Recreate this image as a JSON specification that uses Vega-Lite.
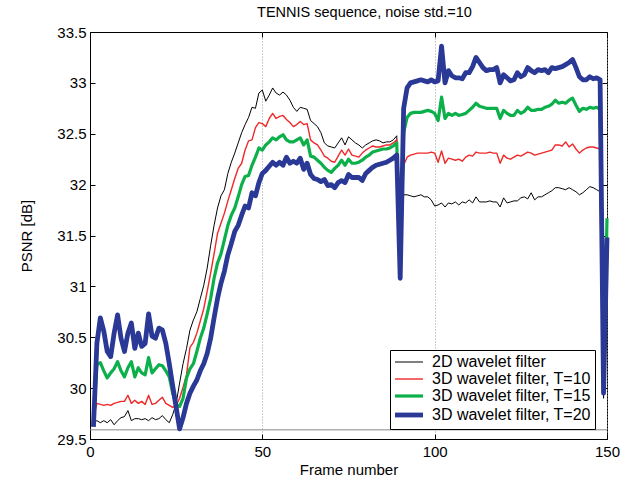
{
"$schema":"https://vega.github.io/schema/vega-lite/v6.json",
"width":517,"height":407,
"autosize":{"type":"none"},
"padding":{"left":90,"top":32,"right":24,"bottom":47},
"background":"#ffffff",
"title":{"text":"TENNIS sequence, noise std.=10","fontSize":14.5,"fontWeight":"normal","font":"Liberation Sans","color":"#000","offset":5,"dx":16},
"datasets":{"psnr":[
{"f":1,"s":"k","v":29.66},{"f":2,"s":"k","v":29.68},{"f":3,"s":"k","v":29.66},{"f":4,"s":"k","v":29.68},{"f":5,"s":"k","v":29.66},{"f":6,"s":"k","v":29.69},{"f":7,"s":"k","v":29.64},{"f":8,"s":"k","v":29.68},{"f":9,"s":"k","v":29.71},{"f":10,"s":"k","v":29.72},
{"f":11,"s":"k","v":29.78},{"f":12,"s":"k","v":29.68},{"f":13,"s":"k","v":29.7},{"f":14,"s":"k","v":29.7},{"f":15,"s":"k","v":29.69},{"f":16,"s":"k","v":29.7},{"f":17,"s":"k","v":29.68},{"f":18,"s":"k","v":29.71},{"f":19,"s":"k","v":29.69},{"f":20,"s":"k","v":29.7},
{"f":21,"s":"k","v":29.73},{"f":22,"s":"k","v":29.69},{"f":23,"s":"k","v":29.66},{"f":24,"s":"k","v":29.74},{"f":25,"s":"k","v":29.85},{"f":26,"s":"k","v":30.05},{"f":27,"s":"k","v":30.24},{"f":28,"s":"k","v":30.39},{"f":29,"s":"k","v":30.57},{"f":30,"s":"k","v":30.67},
{"f":31,"s":"k","v":30.75},{"f":32,"s":"k","v":30.88},{"f":33,"s":"k","v":31.01},{"f":34,"s":"k","v":31.18},{"f":35,"s":"k","v":31.4},{"f":36,"s":"k","v":31.6},{"f":37,"s":"k","v":31.77},{"f":38,"s":"k","v":31.89},{"f":39,"s":"k","v":31.95},{"f":40,"s":"k","v":32.11},
{"f":41,"s":"k","v":32.22},{"f":42,"s":"k","v":32.31},{"f":43,"s":"k","v":32.41},{"f":44,"s":"k","v":32.51},{"f":45,"s":"k","v":32.59},{"f":46,"s":"k","v":32.66},{"f":47,"s":"k","v":32.76},{"f":48,"s":"k","v":32.75},{"f":49,"s":"k","v":32.9},{"f":50,"s":"k","v":32.93},
{"f":51,"s":"k","v":32.82},{"f":52,"s":"k","v":32.88},{"f":53,"s":"k","v":32.95},{"f":54,"s":"k","v":32.9},{"f":55,"s":"k","v":32.88},{"f":56,"s":"k","v":32.91},{"f":57,"s":"k","v":32.88},{"f":58,"s":"k","v":32.83},{"f":59,"s":"k","v":32.76},{"f":60,"s":"k","v":32.72},
{"f":61,"s":"k","v":32.76},{"f":62,"s":"k","v":32.75},{"f":63,"s":"k","v":32.74},{"f":64,"s":"k","v":32.63},{"f":65,"s":"k","v":32.6},{"f":66,"s":"k","v":32.57},{"f":67,"s":"k","v":32.51},{"f":68,"s":"k","v":32.41},{"f":69,"s":"k","v":32.38},{"f":70,"s":"k","v":32.37},
{"f":71,"s":"k","v":32.36},{"f":72,"s":"k","v":32.41},{"f":73,"s":"k","v":32.46},{"f":74,"s":"k","v":32.39},{"f":75,"s":"k","v":32.47},{"f":76,"s":"k","v":32.44},{"f":77,"s":"k","v":32.41},{"f":78,"s":"k","v":32.39},{"f":79,"s":"k","v":32.36},{"f":80,"s":"k","v":32.39},
{"f":81,"s":"k","v":32.41},{"f":82,"s":"k","v":32.43},{"f":83,"s":"k","v":32.44},{"f":84,"s":"k","v":32.43},{"f":85,"s":"k","v":32.41},{"f":86,"s":"k","v":32.42},{"f":87,"s":"k","v":32.42},{"f":88,"s":"k","v":32.44},{"f":89,"s":"k","v":32.48},{"f":90,"s":"k","v":31.37},
{"f":91,"s":"k","v":31.9},{"f":92,"s":"k","v":31.9},{"f":93,"s":"k","v":31.89},{"f":94,"s":"k","v":31.88},{"f":95,"s":"k","v":31.89},{"f":96,"s":"k","v":31.9},{"f":97,"s":"k","v":31.88},{"f":98,"s":"k","v":31.88},{"f":99,"s":"k","v":31.85},{"f":100,"s":"k","v":31.79},
{"f":101,"s":"k","v":31.8},{"f":102,"s":"k","v":31.82},{"f":103,"s":"k","v":31.78},{"f":104,"s":"k","v":31.82},{"f":105,"s":"k","v":31.81},{"f":106,"s":"k","v":31.83},{"f":107,"s":"k","v":31.8},{"f":108,"s":"k","v":31.83},{"f":109,"s":"k","v":31.82},{"f":110,"s":"k","v":31.85},
{"f":111,"s":"k","v":31.82},{"f":112,"s":"k","v":31.88},{"f":113,"s":"k","v":31.83},{"f":114,"s":"k","v":31.83},{"f":115,"s":"k","v":31.83},{"f":116,"s":"k","v":31.84},{"f":117,"s":"k","v":31.83},{"f":118,"s":"k","v":31.83},{"f":119,"s":"k","v":31.78},{"f":120,"s":"k","v":31.87},
{"f":121,"s":"k","v":31.82},{"f":122,"s":"k","v":31.83},{"f":123,"s":"k","v":31.84},{"f":124,"s":"k","v":31.84},{"f":125,"s":"k","v":31.87},{"f":126,"s":"k","v":31.88},{"f":127,"s":"k","v":31.86},{"f":128,"s":"k","v":31.92},{"f":129,"s":"k","v":31.85},{"f":130,"s":"k","v":31.88},
{"f":131,"s":"k","v":31.88},{"f":132,"s":"k","v":31.9},{"f":133,"s":"k","v":31.92},{"f":134,"s":"k","v":31.94},{"f":135,"s":"k","v":31.97},{"f":136,"s":"k","v":31.97},{"f":137,"s":"k","v":31.96},{"f":138,"s":"k","v":31.95},{"f":139,"s":"k","v":31.97},{"f":140,"s":"k","v":31.95},
{"f":141,"s":"k","v":31.93},{"f":142,"s":"k","v":31.9},{"f":143,"s":"k","v":31.92},{"f":144,"s":"k","v":31.95},{"f":145,"s":"k","v":31.98},{"f":146,"s":"k","v":31.97},{"f":147,"s":"k","v":31.95},{"f":148,"s":"k","v":31.93},{"f":149,"s":"k","v":29.9},{"f":150,"s":"k","v":31.23},
{"f":1,"s":"r","v":29.71},{"f":2,"s":"r","v":29.85},{"f":3,"s":"r","v":29.84},{"f":4,"s":"r","v":29.83},{"f":5,"s":"r","v":29.84},{"f":6,"s":"r","v":29.83},{"f":7,"s":"r","v":29.85},{"f":8,"s":"r","v":29.86},{"f":9,"s":"r","v":29.87},{"f":10,"s":"r","v":29.87},
{"f":11,"s":"r","v":29.93},{"f":12,"s":"r","v":29.85},{"f":13,"s":"r","v":29.88},{"f":14,"s":"r","v":29.85},{"f":15,"s":"r","v":29.87},{"f":16,"s":"r","v":29.84},{"f":17,"s":"r","v":29.93},{"f":18,"s":"r","v":29.84},{"f":19,"s":"r","v":29.85},{"f":20,"s":"r","v":29.88},
{"f":21,"s":"r","v":29.91},{"f":22,"s":"r","v":29.85},{"f":23,"s":"r","v":29.83},{"f":24,"s":"r","v":29.81},{"f":25,"s":"r","v":29.83},{"f":26,"s":"r","v":29.9},{"f":27,"s":"r","v":30.01},{"f":28,"s":"r","v":30.13},{"f":29,"s":"r","v":30.4},{"f":30,"s":"r","v":30.45},
{"f":31,"s":"r","v":30.54},{"f":32,"s":"r","v":30.66},{"f":33,"s":"r","v":30.78},{"f":34,"s":"r","v":30.95},{"f":35,"s":"r","v":31.13},{"f":36,"s":"r","v":31.32},{"f":37,"s":"r","v":31.52},{"f":38,"s":"r","v":31.62},{"f":39,"s":"r","v":31.72},{"f":40,"s":"r","v":31.84},
{"f":41,"s":"r","v":31.95},{"f":42,"s":"r","v":32.06},{"f":43,"s":"r","v":32.16},{"f":44,"s":"r","v":32.21},{"f":45,"s":"r","v":32.34},{"f":46,"s":"r","v":32.43},{"f":47,"s":"r","v":32.44},{"f":48,"s":"r","v":32.56},{"f":49,"s":"r","v":32.61},{"f":50,"s":"r","v":32.6},
{"f":51,"s":"r","v":32.57},{"f":52,"s":"r","v":32.65},{"f":53,"s":"r","v":32.7},{"f":54,"s":"r","v":32.65},{"f":55,"s":"r","v":32.67},{"f":56,"s":"r","v":32.68},{"f":57,"s":"r","v":32.64},{"f":58,"s":"r","v":32.61},{"f":59,"s":"r","v":32.57},{"f":60,"s":"r","v":32.59},
{"f":61,"s":"r","v":32.62},{"f":62,"s":"r","v":32.59},{"f":63,"s":"r","v":32.6},{"f":64,"s":"r","v":32.44},{"f":65,"s":"r","v":32.41},{"f":66,"s":"r","v":32.39},{"f":67,"s":"r","v":32.34},{"f":68,"s":"r","v":32.28},{"f":69,"s":"r","v":32.26},{"f":70,"s":"r","v":32.23},
{"f":71,"s":"r","v":32.22},{"f":72,"s":"r","v":32.28},{"f":73,"s":"r","v":32.34},{"f":74,"s":"r","v":32.29},{"f":75,"s":"r","v":32.35},{"f":76,"s":"r","v":32.29},{"f":77,"s":"r","v":32.28},{"f":78,"s":"r","v":32.27},{"f":79,"s":"r","v":32.31},{"f":80,"s":"r","v":32.34},
{"f":81,"s":"r","v":32.36},{"f":82,"s":"r","v":32.38},{"f":83,"s":"r","v":32.37},{"f":84,"s":"r","v":32.37},{"f":85,"s":"r","v":32.38},{"f":86,"s":"r","v":32.39},{"f":87,"s":"r","v":32.39},{"f":88,"s":"r","v":32.41},{"f":89,"s":"r","v":32.44},{"f":90,"s":"r","v":31.27},
{"f":91,"s":"r","v":32.19},{"f":92,"s":"r","v":32.27},{"f":93,"s":"r","v":32.29},{"f":94,"s":"r","v":32.3},{"f":95,"s":"r","v":32.31},{"f":96,"s":"r","v":32.31},{"f":97,"s":"r","v":32.31},{"f":98,"s":"r","v":32.31},{"f":99,"s":"r","v":32.32},{"f":100,"s":"r","v":32.31},
{"f":101,"s":"r","v":32.22},{"f":102,"s":"r","v":32.33},{"f":103,"s":"r","v":32.21},{"f":104,"s":"r","v":32.26},{"f":105,"s":"r","v":32.25},{"f":106,"s":"r","v":32.24},{"f":107,"s":"r","v":32.25},{"f":108,"s":"r","v":32.23},{"f":109,"s":"r","v":32.27},{"f":110,"s":"r","v":32.29},
{"f":111,"s":"r","v":32.28},{"f":112,"s":"r","v":32.32},{"f":113,"s":"r","v":32.31},{"f":114,"s":"r","v":32.31},{"f":115,"s":"r","v":32.31},{"f":116,"s":"r","v":32.32},{"f":117,"s":"r","v":32.31},{"f":118,"s":"r","v":32.31},{"f":119,"s":"r","v":32.21},{"f":120,"s":"r","v":32.29},
{"f":121,"s":"r","v":32.26},{"f":122,"s":"r","v":32.25},{"f":123,"s":"r","v":32.27},{"f":124,"s":"r","v":32.29},{"f":125,"s":"r","v":32.28},{"f":126,"s":"r","v":32.3},{"f":127,"s":"r","v":32.32},{"f":128,"s":"r","v":32.31},{"f":129,"s":"r","v":32.29},{"f":130,"s":"r","v":32.3},
{"f":131,"s":"r","v":32.31},{"f":132,"s":"r","v":32.32},{"f":133,"s":"r","v":32.33},{"f":134,"s":"r","v":32.34},{"f":135,"s":"r","v":32.39},{"f":136,"s":"r","v":32.39},{"f":137,"s":"r","v":32.38},{"f":138,"s":"r","v":32.42},{"f":139,"s":"r","v":32.37},{"f":140,"s":"r","v":32.4},
{"f":141,"s":"r","v":32.35},{"f":142,"s":"r","v":32.31},{"f":143,"s":"r","v":32.34},{"f":144,"s":"r","v":32.36},{"f":145,"s":"r","v":32.37},{"f":146,"s":"r","v":32.37},{"f":147,"s":"r","v":32.36},{"f":148,"s":"r","v":32.35},{"f":149,"s":"r","v":29.94},{"f":150,"s":"r","v":31.37},
{"f":1,"s":"g","v":29.68},{"f":2,"s":"g","v":30.23},{"f":3,"s":"g","v":30.25},{"f":4,"s":"g","v":30.17},{"f":5,"s":"g","v":30.1},{"f":6,"s":"g","v":30.15},{"f":7,"s":"g","v":30.19},{"f":8,"s":"g","v":30.26},{"f":9,"s":"g","v":30.17},{"f":10,"s":"g","v":30.11},
{"f":11,"s":"g","v":30.2},{"f":12,"s":"g","v":30.26},{"f":13,"s":"g","v":30.11},{"f":14,"s":"g","v":30.2},{"f":15,"s":"g","v":30.15},{"f":16,"s":"g","v":30.13},{"f":17,"s":"g","v":30.3},{"f":18,"s":"g","v":30.15},{"f":19,"s":"g","v":30.19},{"f":20,"s":"g","v":30.23},
{"f":21,"s":"g","v":30.22},{"f":22,"s":"g","v":30.17},{"f":23,"s":"g","v":30.11},{"f":24,"s":"g","v":29.95},{"f":25,"s":"g","v":29.84},{"f":26,"s":"g","v":29.82},{"f":27,"s":"g","v":29.9},{"f":28,"s":"g","v":30.1},{"f":29,"s":"g","v":30.19},{"f":30,"s":"g","v":30.24},
{"f":31,"s":"g","v":30.36},{"f":32,"s":"g","v":30.49},{"f":33,"s":"g","v":30.59},{"f":34,"s":"g","v":30.73},{"f":35,"s":"g","v":30.88},{"f":36,"s":"g","v":31.08},{"f":37,"s":"g","v":31.23},{"f":38,"s":"g","v":31.32},{"f":39,"s":"g","v":31.46},{"f":40,"s":"g","v":31.6},
{"f":41,"s":"g","v":31.7},{"f":42,"s":"g","v":31.77},{"f":43,"s":"g","v":31.88},{"f":44,"s":"g","v":32.0},{"f":45,"s":"g","v":32.08},{"f":46,"s":"g","v":32.09},{"f":47,"s":"g","v":32.19},{"f":48,"s":"g","v":32.27},{"f":49,"s":"g","v":32.36},{"f":50,"s":"g","v":32.34},
{"f":51,"s":"g","v":32.39},{"f":52,"s":"g","v":32.42},{"f":53,"s":"g","v":32.46},{"f":54,"s":"g","v":32.44},{"f":55,"s":"g","v":32.47},{"f":56,"s":"g","v":32.49},{"f":57,"s":"g","v":32.44},{"f":58,"s":"g","v":32.42},{"f":59,"s":"g","v":32.42},{"f":60,"s":"g","v":32.44},
{"f":61,"s":"g","v":32.46},{"f":62,"s":"g","v":32.39},{"f":63,"s":"g","v":32.44},{"f":64,"s":"g","v":32.28},{"f":65,"s":"g","v":32.27},{"f":66,"s":"g","v":32.24},{"f":67,"s":"g","v":32.21},{"f":68,"s":"g","v":32.17},{"f":69,"s":"g","v":32.14},{"f":70,"s":"g","v":32.12},
{"f":71,"s":"g","v":32.16},{"f":72,"s":"g","v":32.19},{"f":73,"s":"g","v":32.24},{"f":74,"s":"g","v":32.19},{"f":75,"s":"g","v":32.25},{"f":76,"s":"g","v":32.21},{"f":77,"s":"g","v":32.21},{"f":78,"s":"g","v":32.22},{"f":79,"s":"g","v":32.24},{"f":80,"s":"g","v":32.27},
{"f":81,"s":"g","v":32.29},{"f":82,"s":"g","v":32.32},{"f":83,"s":"g","v":32.33},{"f":84,"s":"g","v":32.34},{"f":85,"s":"g","v":32.35},{"f":86,"s":"g","v":32.35},{"f":87,"s":"g","v":32.36},{"f":88,"s":"g","v":32.38},{"f":89,"s":"g","v":32.41},{"f":90,"s":"g","v":31.18},
{"f":91,"s":"g","v":32.51},{"f":92,"s":"g","v":32.66},{"f":93,"s":"g","v":32.7},{"f":94,"s":"g","v":32.71},{"f":95,"s":"g","v":32.71},{"f":96,"s":"g","v":32.71},{"f":97,"s":"g","v":32.72},{"f":98,"s":"g","v":32.73},{"f":99,"s":"g","v":32.72},{"f":100,"s":"g","v":32.7},
{"f":101,"s":"g","v":32.63},{"f":102,"s":"g","v":32.86},{"f":103,"s":"g","v":32.65},{"f":104,"s":"g","v":32.7},{"f":105,"s":"g","v":32.68},{"f":106,"s":"g","v":32.7},{"f":107,"s":"g","v":32.68},{"f":108,"s":"g","v":32.69},{"f":109,"s":"g","v":32.7},{"f":110,"s":"g","v":32.73},
{"f":111,"s":"g","v":32.76},{"f":112,"s":"g","v":32.8},{"f":113,"s":"g","v":32.77},{"f":114,"s":"g","v":32.76},{"f":115,"s":"g","v":32.75},{"f":116,"s":"g","v":32.75},{"f":117,"s":"g","v":32.75},{"f":118,"s":"g","v":32.75},{"f":119,"s":"g","v":32.65},{"f":120,"s":"g","v":32.73},
{"f":121,"s":"g","v":32.7},{"f":122,"s":"g","v":32.68},{"f":123,"s":"g","v":32.68},{"f":124,"s":"g","v":32.73},{"f":125,"s":"g","v":32.7},{"f":126,"s":"g","v":32.72},{"f":127,"s":"g","v":32.76},{"f":128,"s":"g","v":32.73},{"f":129,"s":"g","v":32.73},{"f":130,"s":"g","v":32.74},
{"f":131,"s":"g","v":32.74},{"f":132,"s":"g","v":32.76},{"f":133,"s":"g","v":32.77},{"f":134,"s":"g","v":32.79},{"f":135,"s":"g","v":32.83},{"f":136,"s":"g","v":32.8},{"f":137,"s":"g","v":32.81},{"f":138,"s":"g","v":32.8},{"f":139,"s":"g","v":32.83},{"f":140,"s":"g","v":32.85},
{"f":141,"s":"g","v":32.78},{"f":142,"s":"g","v":32.72},{"f":143,"s":"g","v":32.75},{"f":144,"s":"g","v":32.74},{"f":145,"s":"g","v":32.76},{"f":146,"s":"g","v":32.75},{"f":147,"s":"g","v":32.76},{"f":148,"s":"g","v":32.74},{"f":149,"s":"g","v":29.95},{"f":150,"s":"g","v":31.67},
{"f":1,"s":"b","v":29.62},{"f":2,"s":"b","v":30.44},{"f":3,"s":"b","v":30.69},{"f":4,"s":"b","v":30.56},{"f":5,"s":"b","v":30.36},{"f":6,"s":"b","v":30.31},{"f":7,"s":"b","v":30.54},{"f":8,"s":"b","v":30.72},{"f":9,"s":"b","v":30.49},{"f":10,"s":"b","v":30.36},
{"f":11,"s":"b","v":30.54},{"f":12,"s":"b","v":30.64},{"f":13,"s":"b","v":30.39},{"f":14,"s":"b","v":30.54},{"f":15,"s":"b","v":30.41},{"f":16,"s":"b","v":30.44},{"f":17,"s":"b","v":30.73},{"f":18,"s":"b","v":30.51},{"f":19,"s":"b","v":30.49},{"f":20,"s":"b","v":30.59},
{"f":21,"s":"b","v":30.57},{"f":22,"s":"b","v":30.44},{"f":23,"s":"b","v":30.24},{"f":24,"s":"b","v":30.02},{"f":25,"s":"b","v":29.81},{"f":26,"s":"b","v":29.6},{"f":27,"s":"b","v":29.71},{"f":28,"s":"b","v":29.85},{"f":29,"s":"b","v":29.95},{"f":30,"s":"b","v":30.02},
{"f":31,"s":"b","v":30.08},{"f":32,"s":"b","v":30.17},{"f":33,"s":"b","v":30.24},{"f":34,"s":"b","v":30.34},{"f":35,"s":"b","v":30.49},{"f":36,"s":"b","v":30.69},{"f":37,"s":"b","v":30.88},{"f":38,"s":"b","v":31.03},{"f":39,"s":"b","v":31.15},{"f":40,"s":"b","v":31.31},
{"f":41,"s":"b","v":31.42},{"f":42,"s":"b","v":31.54},{"f":43,"s":"b","v":31.6},{"f":44,"s":"b","v":31.7},{"f":45,"s":"b","v":31.79},{"f":46,"s":"b","v":31.77},{"f":47,"s":"b","v":31.92},{"f":48,"s":"b","v":31.89},{"f":49,"s":"b","v":32.02},{"f":50,"s":"b","v":32.11},
{"f":51,"s":"b","v":32.14},{"f":52,"s":"b","v":32.18},{"f":53,"s":"b","v":32.22},{"f":54,"s":"b","v":32.19},{"f":55,"s":"b","v":32.22},{"f":56,"s":"b","v":32.19},{"f":57,"s":"b","v":32.27},{"f":58,"s":"b","v":32.21},{"f":59,"s":"b","v":32.23},{"f":60,"s":"b","v":32.21},
{"f":61,"s":"b","v":32.26},{"f":62,"s":"b","v":32.15},{"f":63,"s":"b","v":32.21},{"f":64,"s":"b","v":32.1},{"f":65,"s":"b","v":32.06},{"f":66,"s":"b","v":32.05},{"f":67,"s":"b","v":32.03},{"f":68,"s":"b","v":32.05},{"f":69,"s":"b","v":31.99},{"f":70,"s":"b","v":32.0},
{"f":71,"s":"b","v":31.97},{"f":72,"s":"b","v":32.02},{"f":73,"s":"b","v":32.04},{"f":74,"s":"b","v":32.02},{"f":75,"s":"b","v":32.1},{"f":76,"s":"b","v":32.07},{"f":77,"s":"b","v":32.07},{"f":78,"s":"b","v":32.07},{"f":79,"s":"b","v":32.04},{"f":80,"s":"b","v":32.11},
{"f":81,"s":"b","v":32.14},{"f":82,"s":"b","v":32.17},{"f":83,"s":"b","v":32.19},{"f":84,"s":"b","v":32.2},{"f":85,"s":"b","v":32.21},{"f":86,"s":"b","v":32.22},{"f":87,"s":"b","v":32.24},{"f":88,"s":"b","v":32.26},{"f":89,"s":"b","v":32.29},{"f":90,"s":"b","v":31.08},
{"f":91,"s":"b","v":32.75},{"f":92,"s":"b","v":32.95},{"f":93,"s":"b","v":33.0},{"f":94,"s":"b","v":33.01},{"f":95,"s":"b","v":33.02},{"f":96,"s":"b","v":33.03},{"f":97,"s":"b","v":33.02},{"f":98,"s":"b","v":33.01},{"f":99,"s":"b","v":33.03},{"f":100,"s":"b","v":33.01},
{"f":101,"s":"b","v":33.02},{"f":102,"s":"b","v":33.36},{"f":103,"s":"b","v":33.0},{"f":104,"s":"b","v":33.12},{"f":105,"s":"b","v":33.07},{"f":106,"s":"b","v":33.05},{"f":107,"s":"b","v":33.05},{"f":108,"s":"b","v":33.04},{"f":109,"s":"b","v":33.1},{"f":110,"s":"b","v":33.1},
{"f":111,"s":"b","v":33.16},{"f":112,"s":"b","v":33.25},{"f":113,"s":"b","v":33.2},{"f":114,"s":"b","v":33.15},{"f":115,"s":"b","v":33.12},{"f":116,"s":"b","v":33.13},{"f":117,"s":"b","v":33.13},{"f":118,"s":"b","v":33.15},{"f":119,"s":"b","v":33.0},{"f":120,"s":"b","v":33.08},
{"f":121,"s":"b","v":33.05},{"f":122,"s":"b","v":33.02},{"f":123,"s":"b","v":33.03},{"f":124,"s":"b","v":33.1},{"f":125,"s":"b","v":33.06},{"f":126,"s":"b","v":33.08},{"f":127,"s":"b","v":33.15},{"f":128,"s":"b","v":33.12},{"f":129,"s":"b","v":33.1},{"f":130,"s":"b","v":33.13},
{"f":131,"s":"b","v":33.12},{"f":132,"s":"b","v":33.13},{"f":133,"s":"b","v":33.1},{"f":134,"s":"b","v":33.15},{"f":135,"s":"b","v":33.14},{"f":136,"s":"b","v":33.15},{"f":137,"s":"b","v":33.16},{"f":138,"s":"b","v":33.18},{"f":139,"s":"b","v":33.2},{"f":140,"s":"b","v":33.23},
{"f":141,"s":"b","v":33.15},{"f":142,"s":"b","v":33.06},{"f":143,"s":"b","v":33.03},{"f":144,"s":"b","v":33.03},{"f":145,"s":"b","v":33.06},{"f":146,"s":"b","v":33.04},{"f":147,"s":"b","v":33.05},{"f":148,"s":"b","v":33.03},{"f":149,"s":"b","v":29.95},{"f":150,"s":"b","v":31.48}
],
"baseline":[{"level":29.59}]},
"data":{"name":"psnr"},
"layer":[
{"data":{"name":"baseline"},
 "mark":{"type":"rule","color":"#8a8a8a","strokeWidth":1},
 "encoding":{"y":{"field":"level","type":"quantitative","scale":{"domain":[29.5,33.5],"nice":false,"zero":false},"axis":null}}},
{"mark":{"type":"line","strokeJoin":"round","strokeCap":"butt"},
 "encoding":{
  "x":{"field":"f","type":"quantitative","scale":{"domain":[0,150],"nice":false},
       "axis":{"values":[0,50,100,150],"title":"Frame number","labelPadding":10,"titlePadding":3}},
  "y":{"field":"v","type":"quantitative","scale":{"domain":[29.5,33.5],"nice":false,"zero":false},
       "axis":{"values":[29.5,30,30.5,31,31.5,32,32.5,33,33.5],"format":".3~g","title":"PSNR [dB]","labelPadding":9,"titlePadding":22}},
  "color":{"field":"s","type":"nominal",
       "scale":{"domain":["k","r","g","b"],"range":["#000000","#f02828","#0cb04a","#2a3896"]},
       "legend":{"title":null,"orient":"none","legendX":300,"legendY":318,"symbolType":"M-1.87,0H1.87","symbolSize":225,"symbolFillColor":"transparent","symbolOffset":7,
                 "labelExpr":"datum.value=='k'?'2D wavelet filter':datum.value=='r'?'3D wavelet filter, T=10':datum.value=='g'?'3D wavelet filter, T=15':'3D wavelet filter, T=20'",
                 "labelFont":"Liberation Sans","labelFontSize":16,"labelColor":"#000","labelOffset":15,
                 "strokeColor":"#000","fillColor":"#fff","padding":4,"rowPadding":1,
                 "encode":{"symbols":{"update":{"strokeWidth":{"signal":"datum.value==='b'?4.8:datum.value==='g'?3.2:datum.value==='r'?1.4:1"}}}}}},
  "strokeWidth":{"condition":[{"test":"datum.s==='b'","value":4.8},{"test":"datum.s==='g'","value":3.2},{"test":"datum.s==='r'","value":1.4}],"value":1}
 }},
{"mark":{"type":"point","opacity":0},
 "encoding":{
  "x":{"field":"f","type":"quantitative","axis":{"orient":"top","values":[0,50,100,150],"labels":false,"title":null,"grid":false,"domain":false}},
  "y":{"field":"v","type":"quantitative","axis":{"orient":"right","values":[29.5,30,30.5,31,31.5,32,32.5,33,33.5],"labels":false,"title":null,"grid":false,"domain":false}}
 }}
],
"resolve":{"axis":{"x":"independent","y":"independent"}},
"config":{
 "font":"Liberation Sans",
 "view":{"stroke":"#000","strokeWidth":1},
 "axis":{"labelFont":"Liberation Sans","labelFontSize":15,"labelColor":"#000","titleFont":"Liberation Sans","titleFontSize":15,"titleFontWeight":"normal","titleColor":"#000",
         "domainColor":"#000","tickColor":"#000","tickSize":-5,"grid":true,"gridColor":"#9a9a9a","gridDash":[1,2],"gridWidth":1,"labelFlush":false,"labelOverlap":false}
}
}
